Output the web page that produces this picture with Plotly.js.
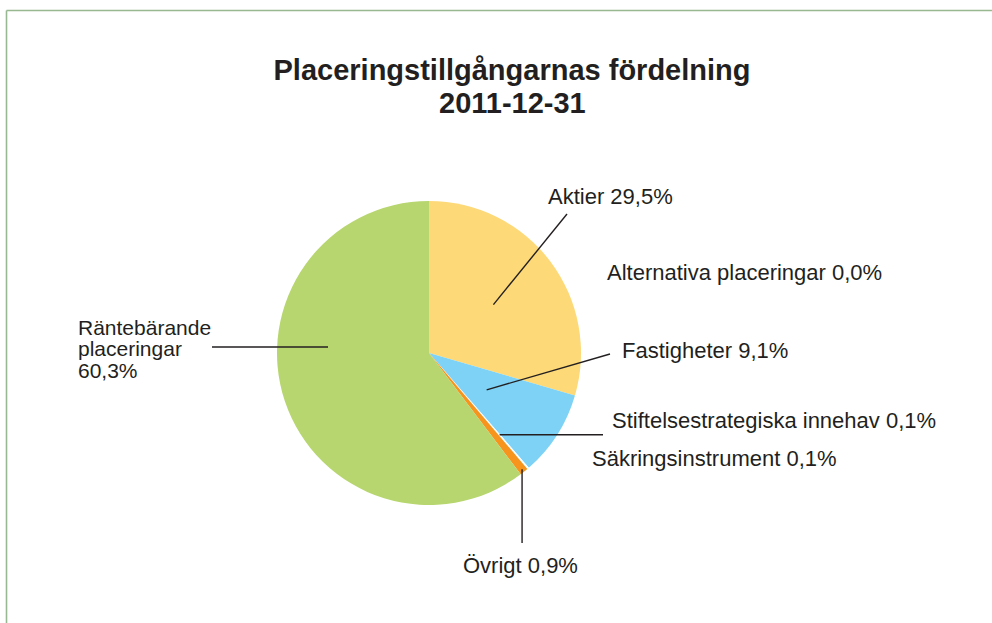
<!DOCTYPE html>
<html>
<head>
<meta charset="utf-8">
<script src="https://cdn.plot.ly/plotly-3.0.1.min.js"></script>
<style>html,body{margin:0;padding:0;background:#fff;}#chart{width:992px;height:623px;}</style>
</head>
<body>
<div id="chart"></div>
<script>
const labels = ["Aktier", "Alternativa placeringar", "Fastigheter", "Stiftelsestrategiska innehav", "Säkringsinstrument", "Övrigt", "Räntebärande placeringar"];
const values = [29.5, 0.0, 9.1, 0.1, 0.1, 0.9, 60.3];
const colors = ["#fdd978", "#fdd978", "#7dd2f5", "#ffffff", "#ffffff", "#f7941d", "#b7d66f"];
const titleLine1 = "Placeringstillgångarnas fördelning";
const titleLine2 = "2011-12-31";

const W = 992, H = 623;
const cx = 429, cy = 353, R = 152;
const px = x => x / W;
const py = y => 1 - y / H;
const fmt = v => v.toFixed(1).replace('.', ',') + '%';
const total = values.reduce((a, b) => a + b, 0);

function tip(i, frac) {
  let cum = 0;
  for (let k = 0; k < i; k++) cum += values[k];
  cum += values[i] / 2;
  const a = cum / total * 2 * Math.PI;
  return [cx + frac * R * Math.sin(a), cy - frac * R * Math.cos(a)];
}

// label placement (pixels): [left x, center y] per line
const labelPos = [
  {i: 0, lines: [labels[0] + " " + fmt(values[0])], x: 547, y: [196], size: 22},
  {i: 1, lines: [labels[1] + " " + fmt(values[1])], x: 606, y: [272], size: 22},
  {i: 2, lines: [labels[2] + " " + fmt(values[2])], x: 621, y: [350], size: 22},
  {i: 3, lines: [labels[3] + " " + fmt(values[3])], x: 611, y: [420], size: 22},
  {i: 4, lines: [labels[4] + " " + fmt(values[4])], x: 591, y: [458], size: 22},
  {i: 5, lines: [labels[5] + " " + fmt(values[5])], x: 462, y: [565], size: 22},
  {i: 6, lines: ["Räntebärande", "placeringar", fmt(values[6])], x: 77, y: [327, 348.5, 370], size: 21}
];

// leader lines: slice index, radius fraction of tip, tail point (pixels)
const leaders = [
  {i: 0, frac: 0.53, tail: [567, 214]},
  {i: 2, frac: 0.45, tail: [610, 354]},
  {i: 3, frac: 0.71, tail: [603, 435], horiz: true},
  {i: 5, frac: 0.98, tail: [522, 543], vert: true},
  {i: 6, tipPx: [328, 347], tail: [212, 347]}
];

const annotations = [];
labelPos.forEach(l => {
  l.lines.forEach((t, k) => {
    annotations.push({
      text: t, xref: 'paper', yref: 'paper', x: px(l.x), y: py(l.y[k]),
      xanchor: 'left', yanchor: 'middle', showarrow: false, borderpad: 0,
      font: {family: 'Liberation Sans, Arial, sans-serif', size: l.size, color: '#231f20'}
    });
  });
});
annotations.push({
  text: '<b>' + titleLine2 + '</b>', xref: 'paper', yref: 'paper', x: px(512), y: py(103),
  xanchor: 'center', yanchor: 'middle', showarrow: false, borderpad: 0,
  font: {family: 'Liberation Sans, Arial, sans-serif', size: 29, color: '#231f20'}
});

const shapes = [];
leaders.forEach(L => {
  let t = L.tipPx ? L.tipPx : tip(L.i, L.frac);
  let x1 = t[0], y1 = t[1];
  let x0 = L.tail[0], y0 = L.tail[1];
  if (L.horiz) y0 = y1 = (y0 + y1) / 2;
  if (L.vert) x0 = x1 = (x0 + x1) / 2;
  shapes.push({type: 'line', xref: 'paper', yref: 'paper',
    x0: px(x0), y0: py(y0), x1: px(x1), y1: py(y1),
    line: {color: '#231f20', width: 1.4}});
});
// outer frame
shapes.push({type: 'line', xref: 'paper', yref: 'paper', x0: px(6.5), y0: py(10.5), x1: px(992), y1: py(10.5), line: {color: '#97b891', width: 1.6}});
shapes.push({type: 'line', xref: 'paper', yref: 'paper', x0: px(6.5), y0: py(10.5), x1: px(6.5), y1: py(623), line: {color: '#97b891', width: 1.6}});

const trace = {
  type: 'pie', labels: labels, values: values, sort: false, direction: 'clockwise', rotation: 0,
  marker: {colors: colors, line: {width: 0}},
  textinfo: 'none', hoverinfo: 'label+percent', showlegend: false,
  domain: {x: [px(cx - R), px(cx + R)], y: [py(cy + R), py(cy - R)]}
};

const layout = {
  width: W, height: H, margin: {l: 0, r: 0, t: 0, b: 0},
  paper_bgcolor: '#ffffff', plot_bgcolor: '#ffffff', showlegend: false,
  title: {text: '<b>' + titleLine1 + '</b>', x: px(512), xanchor: 'center', y: py(70), yanchor: 'middle', yref: 'paper',
    font: {family: 'Liberation Sans, Arial, sans-serif', size: 29, color: '#231f20'}},
  annotations: annotations, shapes: shapes
};

Plotly.newPlot('chart', [trace], layout, {displayModeBar: false, staticPlot: true});
</script>
</body>
</html>
